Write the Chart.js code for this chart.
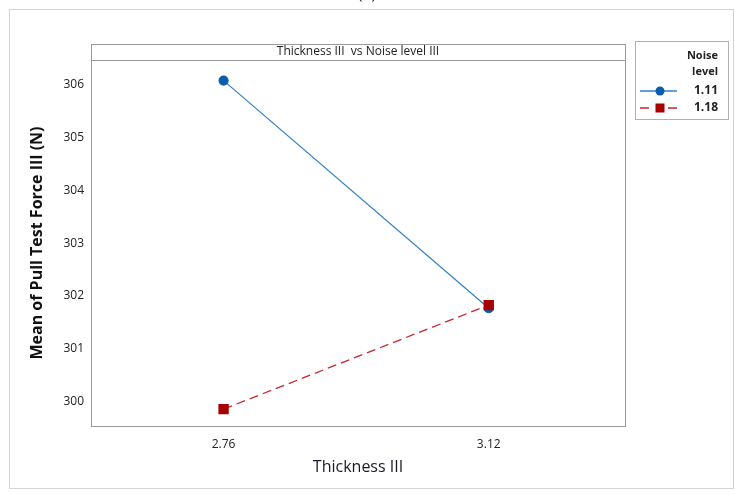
<!DOCTYPE html>
<html>
<head>
<meta charset="utf-8">
<script src="https://cdn.jsdelivr.net/npm/chart.js@4"></script>
<style>
  html, body { margin: 0; padding: 0; background: #fff; }
  #wrap { position: relative; width: 735px; height: 495px; }
</style>
</head>
<body>
<div id="wrap"><canvas id="chart" width="735" height="495"></canvas></div>
<script>
// data
const thickness = [2.76, 3.12];
const noiseLevels = ["1.11", "1.18"];
const force111 = [306.08, 301.77];
const force118 = [299.86, 301.83];
const yTicks = [300, 301, 302, 303, 304, 305, 306];

const font = "'Open Sans', 'Liberation Sans', sans-serif";

// frame, header strip, legend and the cut "(a)" label
const decorPlugin = {
  id: "decor",
  beforeDraw(chart) {
    const ctx = chart.ctx;
    ctx.save();
    ctx.fillStyle = "#fff";
    ctx.fillRect(0, 0, chart.width, chart.height);
    // outer frame
    ctx.strokeStyle = "#d4d4d4";
    ctx.lineWidth = 1;
    ctx.strokeRect(9.5, 9.5, 724, 479);
    // "(a)" cut at the top
    ctx.fillStyle = "#222";
    ctx.font = "16px " + font;
    ctx.textAlign = "center";
    ctx.textBaseline = "bottom";
    ctx.fillText("(a)", 367, 2);
    ctx.restore();
  },
  afterDraw(chart) {
    const ctx = chart.ctx;
    const a = chart.chartArea;
    ctx.save();
    // plot border with strip on top
    ctx.strokeStyle = "#9a9a9a";
    ctx.lineWidth = 1;
    ctx.strokeRect(a.left + 0.5, a.top - 16 + 0.5, a.right - a.left, a.bottom - a.top + 16);
    ctx.beginPath();
    ctx.moveTo(a.left, a.top + 0.5);
    ctx.lineTo(a.right, a.top + 0.5);
    ctx.stroke();
    ctx.fillStyle = "#222";
    ctx.font = "12px " + font;
    ctx.textAlign = "center";
    ctx.textBaseline = "middle";
    ctx.fillText("Thickness III  vs Noise level III", (a.left + a.right) / 2, a.top - 8);

    // legend box
    ctx.strokeStyle = "#b0b0b0";
    ctx.strokeRect(635.5, 41.5, 93, 78);
    ctx.font = "bold 11px " + font;
    ctx.textAlign = "right";
    ctx.fillStyle = "#222";
    ctx.fillText("Noise", 718, 56);
    ctx.fillText("level", 718, 72);
    const sets = chart.data.datasets;
    const rows = [91, 108];
    sets.forEach((ds, i) => {
      const y = rows[i];
      ctx.strokeStyle = ds.borderColor;
      ctx.lineWidth = 1.3;
      ctx.setLineDash(ds.borderDash || []);
      ctx.beginPath();
      ctx.moveTo(640, y);
      ctx.lineTo(677, y);
      ctx.stroke();
      ctx.setLineDash([]);
      ctx.fillStyle = ds.pointBackgroundColor;
      if (ds.pointStyle === "rect") {
        ctx.fillStyle = "#fff";
        ctx.fillRect(654, y - 5, 12, 10);
        ctx.fillStyle = ds.pointBackgroundColor;
        ctx.fillRect(655.5, y - 4.5, 9, 9);
      } else {
        ctx.beginPath();
        ctx.arc(660, y, 4.5, 0, Math.PI * 2);
        ctx.fill();
      }
      ctx.fillStyle = "#222";
      ctx.textAlign = "right";
      ctx.font = "bold 12px " + font;
      ctx.fillText(noiseLevels[i], 718, y);
    });
    ctx.restore();
  }
};

new Chart(document.getElementById("chart"), {
  type: "line",
  data: {
    datasets: [
      {
        label: noiseLevels[0],
        data: thickness.map((t, i) => ({ x: t, y: force111[i] })),
        borderColor: "#2f7fc8",
        backgroundColor: "#0b5cab",
        pointBackgroundColor: "#0b5cab",
        pointBorderColor: "#0b5cab",
        pointStyle: "circle",
        pointRadius: 4.5,
        borderWidth: 1.2,
        order: 1
      },
      {
        label: noiseLevels[1],
        data: thickness.map((t, i) => ({ x: t, y: force118[i] })),
        borderColor: "#c8262e",
        backgroundColor: "#a80000",
        pointBackgroundColor: "#a80000",
        pointBorderColor: "#a80000",
        pointStyle: "rect",
        pointRadius: 6.4,
        borderWidth: 1.3,
        borderDash: [9, 5],
        order: 0
      }
    ]
  },
  options: {
    responsive: false,
    animation: false,
    layout: { padding: { top: 60, right: 110, bottom: 18, left: 28 } },
    plugins: {
      legend: { display: false },
      tooltip: { enabled: false }
    },
    scales: {
      x: {
        type: "linear",
        min: 2.58,
        max: 3.305,
        afterBuildTicks(scale) {
          scale.ticks = thickness.map((v) => ({ value: v }));
        },
        afterFit(scale) { scale.height = 51; },
        grid: { display: false, drawTicks: true, tickLength: 4, tickColor: "#888" },
        border: { display: false },
        ticks: {
          color: "#222",
          font: { family: font, size: 12 },
          padding: 7,
          callback: (v) => v.toFixed(2)
        },
        title: {
          display: true,
          text: "Thickness III",
          color: "#1a1a2a",
          font: { family: font, size: 16 },
          padding: { top: 0, bottom: 0 }
        }
      },
      y: {
        min: 299.54,
        max: 306.47,
        afterBuildTicks(scale) {
          scale.ticks = yTicks.map((v) => ({ value: v }));
        },
        afterFit(scale) { scale.width = 63; },
        grid: { display: false, drawTicks: true, tickLength: 4, tickColor: "#888" },
        border: { display: false },
        ticks: {
          color: "#222",
          font: { family: font, size: 12 },
          padding: 3
        },
        title: {
          display: true,
          text: "Mean of Pull Test Force III (N)",
          color: "#111",
          font: { family: font, size: 16, weight: "bold" },
          padding: { top: 0, bottom: 0 }
        }
      }
    }
  },
  plugins: [decorPlugin]
});
</script>
</body>
</html>
